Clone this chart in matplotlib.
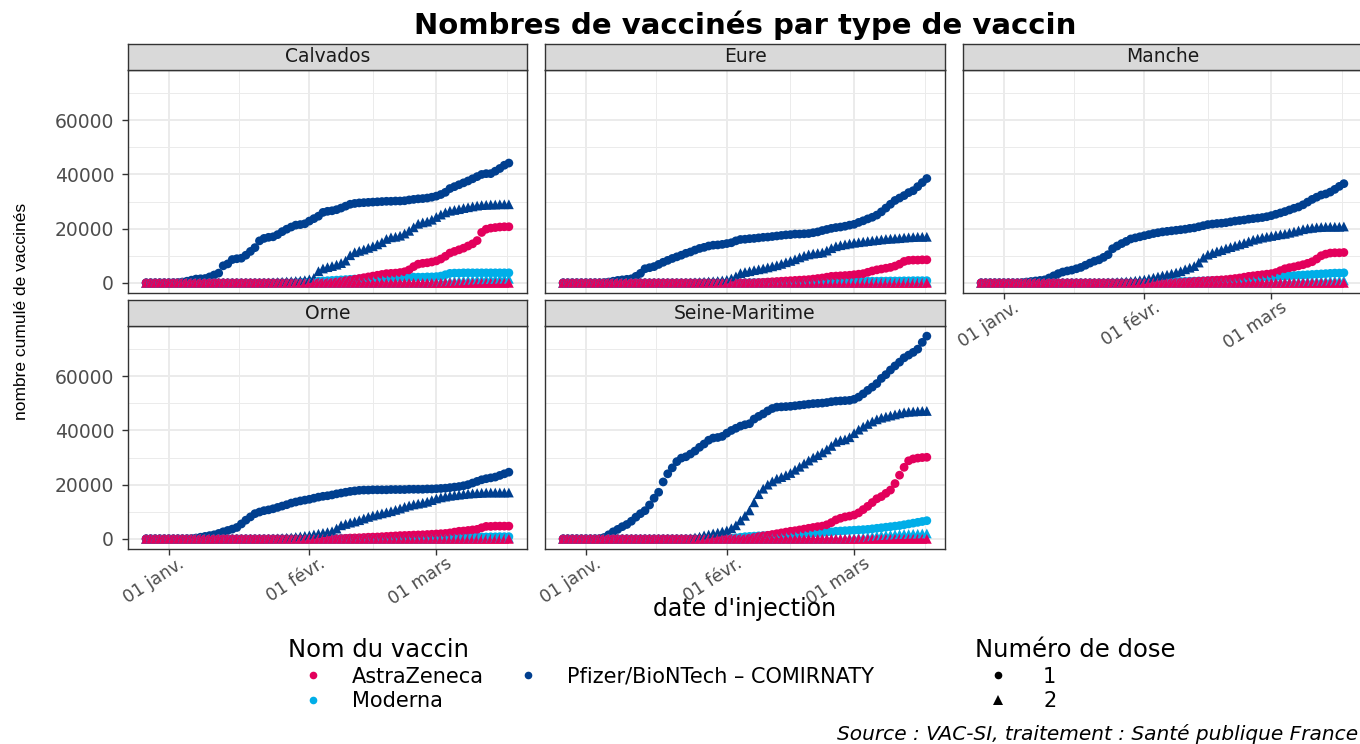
import matplotlib
matplotlib.use("Agg")
import matplotlib.pyplot as plt
import matplotlib.ticker as mticker
from matplotlib.lines import Line2D
from matplotlib.transforms import ScaledTranslation
import pandas as pd
import datetime as dt

plt.rcParams["font.family"] = ["DejaVu Sans"]

# ---------------- data (values in thousands of people) ----------------
dates = pd.date_range("2020-12-27", "2021-03-17", freq="D").to_pydatetime()
departements = ["Calvados", "Eure", "Manche", "Orne", "Seine-Maritime"]
vaccins = ["AstraZeneca", "Moderna", "Pfizer/BioNTech \u2013 COMIRNATY"]
doses = ["1", "2"]
major_dates = [dt.datetime(2021, 1, 1), dt.datetime(2021, 2, 1), dt.datetime(2021, 3, 1)]
major_labels = ["01 janv.", "01 févr.", "01 mars"]
y_breaks = [0, 20000, 40000, 60000]

# Calvados
cal_pfizer_1 = [0, 0, 0, 0, 0, 0, 0.05, 0.1, 0.3, 0.6,
                1.0, 1.4, 1.5, 1.6, 2.2, 2.9, 3.6, 6.3, 7.0, 8.6,
                8.9, 9.1, 10.2, 11.6, 13.0, 15.5, 16.4, 16.8, 17.0, 17.8,
                18.9, 19.8, 20.6, 21.3, 21.5, 21.8, 22.8, 23.7, 24.6, 26.0,
                26.4, 26.6, 27.0, 27.6, 28.3, 29.0, 29.3, 29.5, 29.6, 29.7,
                29.8, 29.9, 30.0, 30.1, 30.1, 30.2, 30.2, 30.3, 30.6, 30.8,
                31.0, 31.1, 31.3, 31.6, 32.0, 32.6, 33.4, 34.8, 35.5, 36.2,
                36.9, 37.6, 38.4, 39.2, 40.0, 40.3, 40.3, 41.2, 42.2, 43.4,
                44.2]
cal_pfizer_2 = [0] * 26 + [0.05, 0.1, 0.2, 0.3,
                0.4, 0.5, 0.6, 0.7, 0.8, 1.0, 1.3, 1.8, 4.3, 5.3,
                5.8, 6.2, 6.7, 7.3, 8.2, 10.2, 11.3, 11.8, 12.3, 12.9,
                13.5, 14.2, 15.0, 16.2, 16.8, 17.0, 17.4, 18.2, 19.2, 20.5,
                21.8, 22.3, 22.6, 23.3, 24.3, 25.2, 26.0, 26.6, 26.9, 27.2,
                27.6, 27.9, 28.2, 28.5, 28.7, 28.8, 28.9, 28.9, 29.0, 29.0,
                29.0]
cal_astra_1 = [0] * 40 + [0, 0.1, 0.3, 0.5, 0.8, 1.0, 1.3, 1.6, 1.9, 2.2,
               2.5, 2.8, 3.1, 3.4, 3.5, 3.6, 3.8, 4.1, 4.8, 6.0,
               6.9, 7.2, 7.4, 7.7, 8.1, 8.8, 9.8, 11.0, 11.6, 12.2,
               12.8, 13.6, 14.4, 15.6, 18.6, 19.8, 20.2, 20.4, 20.6, 20.7,
               20.7]
cal_moderna_1 = [0] * 30 + [0, 0, 0, 0.1, 0.2, 0.3, 0.4, 0.5, 0.6, 0.7,
                 0.8, 0.9, 1.0, 1.1, 1.2, 1.3, 1.4, 1.5, 1.6, 1.7,
                 1.7, 1.8, 1.8, 1.9, 1.9, 1.9, 2.0, 2.0, 2.0, 2.1,
                 2.1, 2.1, 2.2, 2.2, 2.3, 2.5, 3.0, 3.5, 3.6, 3.6,
                 3.7, 3.7, 3.7, 3.7, 3.7, 3.7, 3.7, 3.7, 3.7, 3.7,
                 3.7]
cal_moderna_2 = [0] * 60 + [0, 0, 0.1, 0.2, 0.3, 0.4, 0.5, 0.6, 0.7, 0.8,
                 0.9, 1.0, 1.1, 1.2, 1.3, 1.3, 1.4, 1.4, 1.5, 1.5,
                 1.5]
cal_astra_2 = [0] * 81

# Eure
eur_pfizer_1 = [0, 0, 0, 0, 0, 0, 0, 0, 0, 0.1,
                0.3, 0.6, 0.9, 1.1, 1.3, 1.5, 2.4, 3.5, 5.2, 5.6,
                6.0, 6.8, 7.6, 8.3, 9.0, 9.6, 10.2, 10.9, 11.4, 12.1,
                12.7, 13.1, 13.6, 13.9, 14.0, 14.2, 14.5, 14.8, 15.5, 16.0,
                16.1, 16.3, 16.4, 16.6, 16.8, 16.9, 17.1, 17.3, 17.5, 17.7,
                17.8, 18.0, 18.0, 18.1, 18.2, 18.5, 18.8, 19.3, 19.7, 20.1,
                20.4, 20.6, 20.9, 21.3, 21.6, 22.3, 22.9, 23.6, 24.2, 25.0,
                26.2, 27.6, 29.0, 30.4, 31.3, 32.2, 33.3, 34.0, 35.5, 37.0,
                38.5]
eur_pfizer_2 = [0] * 28 + [0.1, 0.2,
                0.3, 0.4, 0.5, 0.6, 0.7, 0.9, 1.1, 1.6, 2.4, 3.6,
                4.0, 4.3, 4.7, 5.0, 5.3, 5.7, 6.1, 6.5, 7.0, 7.6,
                8.1, 8.7, 9.4, 10.0, 10.5, 10.8, 11.0, 11.2, 11.9, 12.8,
                13.5, 13.9, 14.2, 14.5, 14.8, 15.0, 15.2, 15.4, 15.6, 15.8,
                16.0, 16.2, 16.3, 16.4, 16.5, 16.7, 16.8, 16.9, 17.0, 17.0,
                17.0]
eur_astra_1 = [0] * 40 + [0, 0, 0, 0.1, 0.2, 0.3, 0.4, 0.5, 0.6, 0.7,
               0.8, 0.9, 1.0, 1.1, 1.2, 1.4, 1.6, 1.8, 2.1, 2.4,
               2.5, 2.6, 2.7, 2.8, 3.0, 3.2, 3.4, 3.9, 4.4, 4.8,
               5.1, 5.4, 5.7, 6.2, 6.9, 7.9, 8.3, 8.4, 8.4, 8.5,
               8.5]
eur_moderna_1 = [0] * 40 + [0.05, 0.05, 0.1, 0.1, 0.1, 0.15, 0.15, 0.2, 0.2, 0.2,
                 0.25, 0.25, 0.3, 0.3, 0.3, 0.35, 0.35, 0.4, 0.4, 0.4,
                 0.45, 0.45, 0.5, 0.5, 0.5, 0.55, 0.55, 0.6, 0.6, 0.6,
                 0.65, 0.65, 0.7, 0.7, 0.7, 0.75, 0.75, 0.8, 0.8, 0.8,
                 0.8]
eur_moderna_2 = [0] * 60 + [0, 0, 0, 0.05, 0.05, 0.1, 0.1, 0.1, 0.15, 0.15,
                 0.2, 0.2, 0.2, 0.25, 0.25, 0.3, 0.3, 0.3, 0.35, 0.35,
                 0.4]
eur_astra_2 = [0] * 81

# Manche
man_pfizer_1 = [0, 0, 0, 0, 0, 0, 0, 0, 0, 0.1,
                0.3, 0.5, 0.7, 0.9, 1.1, 1.8, 2.6, 3.4, 4.0, 4.4,
                4.7, 5.2, 5.7, 6.5, 7.3, 8.0, 8.5, 9.4, 10.4, 12.6,
                13.6, 14.5, 15.3, 16.2, 16.6, 17.0, 17.4, 17.8, 18.2, 18.5,
                18.8, 19.0, 19.2, 19.4, 19.6, 19.8, 20.1, 20.3, 20.7, 21.1,
                21.5, 21.7, 21.9, 22.0, 22.2, 22.5, 22.8, 23.0, 23.2, 23.5,
                23.7, 23.9, 24.1, 24.4, 24.8, 25.3, 25.8, 26.3, 26.9, 27.5,
                28.0, 28.8, 29.8, 30.8, 31.6, 32.4, 32.8, 33.5, 34.5, 35.6,
                36.6]
man_pfizer_2 = [0] * 28 + [0.1, 0.2,
                0.3, 0.4, 0.5, 0.6, 0.8, 1.0, 1.2, 1.5, 1.9, 2.3,
                2.7, 3.0, 3.4, 3.8, 4.3, 5.0, 5.6, 6.2, 7.5, 9.3,
                10.4, 11.0, 11.6, 12.1, 12.7, 13.2, 13.7, 14.2, 14.7, 15.3,
                15.9, 16.3, 16.7, 17.0, 17.3, 17.6, 17.9, 18.1, 18.5, 18.9,
                19.3, 19.8, 20.1, 20.3, 20.5, 20.6, 20.7, 20.7, 20.7, 20.7,
                20.8]
man_astra_1 = [0] * 40 + [0, 0, 0, 0.1, 0.2, 0.3, 0.4, 0.5, 0.6, 0.7,
               0.8, 0.9, 1.0, 1.1, 1.2, 1.4, 1.6, 1.8, 2.1, 2.4,
               2.6, 2.8, 3.0, 3.2, 3.4, 3.8, 4.5, 5.2, 5.6, 5.9,
               6.3, 6.7, 7.2, 7.8, 8.8, 10.0, 10.6, 11.0, 11.1, 11.1,
               11.2]
man_moderna_1 = [0] * 30 + [0, 0, 0, 0, 0, 0, 0.1, 0.15, 0.2, 0.25,
                 0.3, 0.35, 0.4, 0.45, 0.5, 0.55, 0.6, 0.65, 0.7, 0.75,
                 0.8, 0.85, 0.9, 0.95, 1.0, 1.05, 1.1, 1.15, 1.2, 1.4,
                 1.6, 1.8, 2.0, 2.1, 2.2, 2.3, 2.4, 2.5, 2.6, 2.7,
                 2.8, 2.9, 3.0, 3.1, 3.2, 3.3, 3.4, 3.5, 3.6, 3.6,
                 3.7]
man_moderna_2 = [0] * 60 + [0, 0, 0.05, 0.1, 0.15, 0.2, 0.25, 0.3, 0.35, 0.4,
                 0.45, 0.5, 0.55, 0.6, 0.65, 0.7, 0.75, 0.8, 0.85, 0.9,
                 0.9]
man_astra_2 = [0] * 81

# Orne
orn_pfizer_1 = [0] * 10 + [0.1, 0.3, 0.6, 0.9, 1.2, 1.5, 2.0, 2.6, 3.1, 3.6,
                4.2, 5.5, 6.9, 8.1, 9.3, 9.9, 10.4, 10.7, 11.1, 11.6,
                12.1, 12.6, 13.2, 13.6, 14.0, 14.3, 14.6, 15.0, 15.4, 15.7,
                15.9, 16.2, 16.6, 16.9, 17.2, 17.5, 17.7, 17.9, 18.0, 18.0,
                18.1, 18.1, 18.1, 18.1, 18.2, 18.2, 18.2, 18.2, 18.3, 18.3,
                18.3, 18.3, 18.4, 18.4, 18.5, 18.6, 18.7, 18.9, 19.1, 19.3,
                19.6, 20.0, 20.6, 21.2, 21.8, 22.2, 22.5, 22.8, 23.4, 24.0,
                24.6]
orn_pfizer_2 = [0] * 28 + [0.1, 0.2,
                0.3, 0.4, 0.5, 0.7, 0.9, 1.1, 1.3, 1.6, 1.9, 2.2,
                2.5, 2.8, 3.8, 5.0, 5.5, 6.0, 6.4, 6.9, 7.5, 8.1,
                8.6, 9.0, 9.4, 9.8, 10.2, 10.7, 11.2, 11.8, 12.3, 12.7,
                13.0, 13.3, 13.7, 14.3, 14.9, 15.3, 15.6, 15.9, 16.1, 16.3,
                16.5, 16.7, 16.8, 16.9, 17.0, 17.1, 17.1, 17.1, 17.1, 17.1,
                17.1]
orn_astra_1 = [0] * 40 + [0, 0, 0, 0.1, 0.2, 0.3, 0.35, 0.4, 0.5, 0.6,
               0.65, 0.7, 0.8, 0.9, 1.0, 1.1, 1.2, 1.25, 1.3, 1.4,
               1.45, 1.5, 1.6, 1.7, 1.8, 1.9, 2.0, 2.2, 2.5, 2.8,
               2.9, 3.1, 3.3, 3.5, 4.1, 4.6, 4.6, 4.7, 4.7, 4.7,
               4.7]
orn_moderna_1 = [0] * 40 + [0.05, 0.05, 0.1, 0.1, 0.1, 0.15, 0.15, 0.2, 0.2, 0.2,
                 0.25, 0.25, 0.3, 0.3, 0.3, 0.35, 0.35, 0.4, 0.4, 0.4,
                 0.4, 0.45, 0.45, 0.5, 0.5, 0.5, 0.55, 0.55, 0.6, 0.6,
                 0.6, 0.65, 0.65, 0.7, 0.7, 0.7, 0.75, 0.75, 0.8, 0.8,
                 0.8]
orn_moderna_2 = [0] * 60 + [0, 0, 0, 0.05, 0.05, 0.1, 0.1, 0.1, 0.15, 0.15,
                 0.2, 0.2, 0.2, 0.25, 0.25, 0.3, 0.3, 0.3, 0.3, 0.35,
                 0.35]
orn_astra_2 = [0] * 81

# Seine-Maritime
sm_pfizer_1 = [0, 0, 0, 0, 0, 0, 0, 0, 0.1, 0.5,
               1.5, 2.6, 3.5, 4.5, 5.3, 6.5, 8.0, 9.3, 10.4, 12.5,
               15.0, 17.2, 21.0, 24.0, 26.2, 28.5, 29.8, 30.3, 31.3, 32.4,
               33.8, 35.0, 36.4, 37.2, 37.4, 37.8, 39.0, 40.0, 40.8, 41.6,
               42.1, 42.5, 44.2, 45.2, 46.1, 47.2, 48.1, 48.6, 48.7, 48.8,
               48.9, 49.1, 49.3, 49.5, 49.7, 49.9, 50.0, 50.1, 50.3, 50.6,
               50.8, 50.9, 51.0, 51.1, 51.5, 52.3, 53.5, 54.8, 56.0, 57.3,
               59.2, 60.6, 62.3, 63.8, 65.2, 66.8, 67.8, 68.8, 70.0, 72.5,
               74.8]
sm_pfizer_2 = [0] * 28 + [0.2, 0.5,
               0.8, 1.3, 1.6, 2.0, 2.3, 2.7, 3.1, 3.9, 5.0, 6.8,
               8.5, 10.5, 13.5, 16.5, 18.5, 20.0, 21.2, 22.2, 22.8, 23.5,
               24.3, 25.5, 26.6, 27.8, 28.9, 30.0, 30.9, 31.9, 33.0, 34.3,
               35.8, 36.4, 36.7, 37.5, 39.0, 40.3, 41.4, 42.4, 43.3, 44.1,
               44.7, 45.1, 45.5, 45.9, 46.3, 46.7, 46.9, 47.0, 47.1, 47.2,
               47.2]
sm_astra_1 = [0] * 40 + [0, 0.2, 0.5, 0.8, 1.1, 1.3, 1.6, 1.9, 2.2, 2.5,
              2.8, 3.0, 3.3, 3.6, 3.9, 4.2, 4.5, 4.7, 5.2, 6.0,
              7.0, 7.6, 8.1, 8.4, 8.8, 9.6, 10.8, 12.0, 13.4, 14.8,
              15.6, 16.8, 18.0, 20.4, 23.5, 26.4, 28.8, 29.5, 29.8, 30.0,
              30.1]
sm_moderna_1 = [0] * 30 + [0, 0, 0, 0, 0, 0, 0.1, 0.2, 0.4, 0.6,
                0.8, 0.9, 1.0, 1.1, 1.2, 1.3, 1.4, 1.5, 1.6, 1.7,
                1.8, 1.85, 1.9, 1.95, 2.0, 2.1, 2.2, 2.3, 2.5, 2.6,
                2.8, 2.9, 3.0, 3.1, 3.2, 3.3, 3.4, 3.5, 3.7, 3.9,
                4.1, 4.3, 4.5, 4.7, 4.9, 5.2, 5.5, 5.8, 6.1, 6.4,
                6.7]
sm_moderna_2 = [0] * 60 + [0, 0, 0.1, 0.2, 0.3, 0.4, 0.5, 0.7, 0.9, 1.1,
                1.3, 1.4, 1.5, 1.6, 1.7, 1.8, 1.8, 1.9, 1.9, 2.0,
                2.0]
sm_astra_2 = [0] * 81

# ---------------- assemble ----------------
series = {
    "Calvados": [cal_pfizer_1, cal_pfizer_2, cal_moderna_1, cal_moderna_2, cal_astra_1, cal_astra_2],
    "Eure": [eur_pfizer_1, eur_pfizer_2, eur_moderna_1, eur_moderna_2, eur_astra_1, eur_astra_2],
    "Manche": [man_pfizer_1, man_pfizer_2, man_moderna_1, man_moderna_2, man_astra_1, man_astra_2],
    "Orne": [orn_pfizer_1, orn_pfizer_2, orn_moderna_1, orn_moderna_2, orn_astra_1, orn_astra_2],
    "Seine-Maritime": [sm_pfizer_1, sm_pfizer_2, sm_moderna_1, sm_moderna_2, sm_astra_1, sm_astra_2],
}
for k, v in series.items():
    for s in v:
        assert len(s) == len(dates), (k, len(s))

col_pfizer = "#003F8F"
col_moderna = "#00AEE8"
col_astra = "#E3005C"
series_style = [(col_pfizer, "o"), (col_pfizer, "^"), (col_moderna, "o"), (col_moderna, "^"),
                (col_astra, "o"), (col_astra, "^")]

W, H = 1360, 744
fig = plt.figure(figsize=(W / 100, H / 100), dpi=100)
fig.patch.set_facecolor("white")

panel_px = {
    "Calvados": (128, 70, 527, 293),
    "Eure": (545, 70, 945, 293),
    "Manche": (963, 70, 1362, 293),
    "Orne": (128, 326, 527, 549),
    "Seine-Maritime": (545, 326, 945, 549),
}
left_col = {"Calvados", "Orne"}
bottom_axis = {"Manche", "Orne", "Seine-Maritime"}

ymax = max(max(s) for v in series.values() for s in v) * 1000
ypad = 0.05 * ymax
x0, x1 = dates[0], dates[-1]
xpad = (x1 - x0) * 0.05
minor_x = [major_dates[i] + (b - major_dates[i]) / 2
           for i, b in enumerate(major_dates[1:] + [dt.datetime(2021, 4, 1)])]

grey20 = "#333333"
label_shift = ScaledTranslation(9 / 100, 3 / 100, fig.dpi_scale_trans)
for name, (L, T, R, B) in panel_px.items():
    ax = fig.add_axes([L / W, 1 - B / H, (R - L) / W, (B - T) / H])
    ax.set_facecolor("white")
    ax.set_axisbelow(True)
    for i, d in enumerate(dates):
        for mk, sz in (("o", 40), ("^", 50)):
            vals = [s[i] * 1000 for s, (c, m) in zip(series[name], series_style) if m == mk]
            cols = [c for s, (c, m) in zip(series[name], series_style) if m == mk]
            ax.scatter([d] * len(vals), vals, c=cols, marker=mk, s=sz, linewidths=0, zorder=3)
    ax.set_xlim(x0 - xpad, x1 + xpad)
    ax.set_ylim(-ypad, ymax + ypad)
    ax.set_xticks(major_dates)
    ax.set_xticks(minor_x, minor=True)
    ax.set_yticks(y_breaks)
    ax.set_yticks([10000, 30000, 50000, 70000], minor=True)
    ax.grid(which="major", color="#EBEBEB", linewidth=1.4)
    ax.grid(which="minor", color="#EBEBEB", linewidth=0.7)
    for sp in ax.spines.values():
        sp.set_color(grey20)
        sp.set_linewidth(1.0)
    ax.tick_params(which="minor", length=0)
    ax.tick_params(which="major", direction="out", color=grey20, width=1.0,
                   labelcolor="#4D4D4D")
    if name in left_col:
        ax.yaxis.set_major_formatter(mticker.StrMethodFormatter("{x:.0f}"))
        ax.tick_params(axis="y", length=4, pad=6, labelsize=13.5)
    else:
        ax.tick_params(axis="y", length=0, labelleft=False)
    if name in bottom_axis:
        ax.set_xticklabels(major_labels, rotation=33, ha="right", va="top",
                           rotation_mode="anchor")
        ax.tick_params(axis="x", length=4, pad=2, labelsize=12.5)
        for lab in ax.get_xticklabels():
            lab.set_transform(lab.get_transform() + label_shift)
    else:
        ax.tick_params(axis="x", length=0, labelbottom=False)
    # strip
    sx = fig.add_axes([L / W, 1 - T / H, (R - L) / W, 26 / H])
    sx.set_facecolor("#D9D9D9")
    sx.set_xticks([])
    sx.set_yticks([])
    for sp in sx.spines.values():
        sp.set_color(grey20)
        sp.set_linewidth(1.0)
    sx.text(0.5, 0.5, name, transform=sx.transAxes, ha="center", va="center",
            fontsize=13.5, color="#1A1A1A")

# titles
fig.text(745 / W, 1 - 25 / H, "Nombres de vaccinés par type de vaccin", ha="center", va="center",
         fontsize=21, fontweight="bold", color="black")
fig.text(745 / W, 1 - 609 / H, "date d'injection", ha="center", va="center", fontsize=17,
         color="black")
fig.text(22 / W, 1 - 311 / H, "nombre cumulé de vaccinés", ha="center", va="center", rotation=90,
         fontsize=12.5, color="black", family=["Liberation Sans", "DejaVu Sans"])
fig.text(1358 / W, 1 - 740 / H, "Source : VAC-SI, traitement : Santé publique France",
         ha="right", va="baseline", fontsize=14.5, style="italic", color="black")

# legends
vac_colors = {"AstraZeneca": col_astra, "Moderna": col_moderna,
              "Pfizer/BioNTech \u2013 COMIRNATY": col_pfizer}
h_vac = [Line2D([], [], linestyle="none", marker="o", markersize=5.5, markeredgewidth=0,
                color=vac_colors[v]) for v in vaccins]
leg1 = fig.legend(h_vac, vaccins, loc="upper left", bbox_to_anchor=(288 / W, 1 - 638 / H),
                  ncol=2, frameon=False, title="Nom du vaccin", title_fontsize=17.5,
                  fontsize=15, alignment="left", handlelength=2.4, handletextpad=0.67,
                  columnspacing=0.91, labelspacing=0.22, borderpad=0, borderaxespad=0)
h_dose = [Line2D([], [], linestyle="none", marker=m, markersize=ms, markeredgewidth=0, color="black")
          for m, ms in (("o", 5.5), ("^", 6.5))]
leg2 = fig.legend(h_dose, doses, loc="upper left", bbox_to_anchor=(975 / W, 1 - 638 / H),
                  ncol=1, frameon=False, title="Numéro de dose", title_fontsize=17.5,
                  fontsize=15, alignment="left", handlelength=2.21, handletextpad=1.06,
                  labelspacing=0.22, borderpad=0, borderaxespad=0)

fig.savefig("out.png", dpi=100, facecolor="white")
